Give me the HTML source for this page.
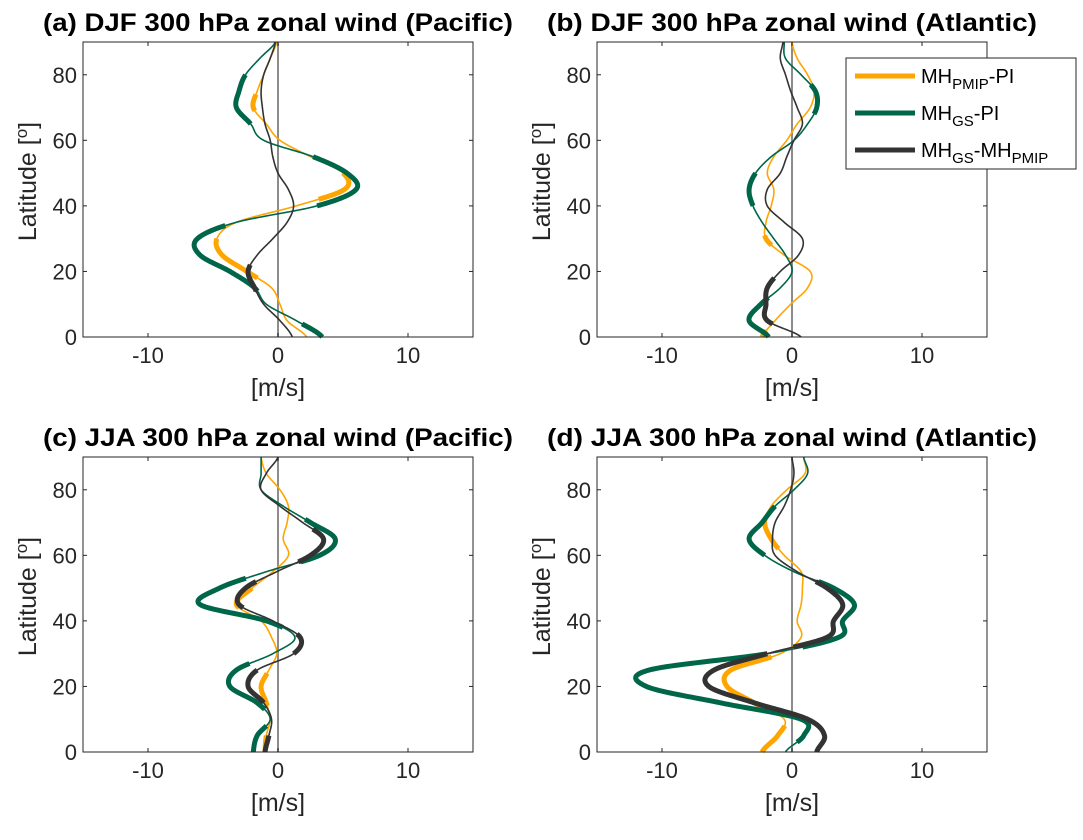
<!DOCTYPE html>
<html><head><meta charset="utf-8"><style>
html,body{margin:0;padding:0;background:#fff;}
svg text{font-family:"Liberation Sans",Arial,sans-serif;}
</style></head><body>
<svg id="fig" width="1083" height="835" viewBox="0 0 1083 835" xmlns="http://www.w3.org/2000/svg"></svg>
<script>
const lats=[0,5,10,15,20,25,30,35,40,45,50,55,60,65,70,75,80,85,90];
const xTicks=[-10,0,10];
const yTicks=[0,20,40,60,80];
// Panel a (DJF Pacific)
const aOrange=[2.2,0.7,0.15,-0.5,-2.4,-4.3,-4.7,-3.2,1.4,5.1,5.0,2.5,0.15,-0.9,-1.9,-1.6,-1.1,-0.6,-0.1];
const aGreen=[3.4,1.4,-0.9,-1.8,-3.7,-6.0,-6.2,-3.2,3.0,6.0,5.3,2.7,-1.1,-2.1,-3.2,-3.0,-2.5,-1.4,-0.2];
const aBlack=[1.1,0.15,-1.1,-1.8,-2.3,-1.6,-0.4,0.7,1.2,0.8,0,-0.4,-0.6,-1.0,-1.2,-1.3,-1.1,-0.6,-0.2];
const aOrangeSig=[[18,30],[42,50],[69,74]];
const aGreenSig=[[0,4],[14,34],[40,55],[65,80]];
const aBlackSig=[[14,22]];
// Panel b (DJF Atlantic)
const bOrange=[-2.3,-1.3,-0.1,1.2,1.4,-0.6,-2.0,-2.0,-1.6,-1.4,-1.9,-1.4,-0.4,0.4,1.4,1.7,1.2,0.4,0];
const bGreen=[-1.8,-3.3,-2.4,-0.9,0,-0.5,-1.4,-2.3,-3.0,-3.3,-2.8,-1.6,0.15,1.2,1.9,1.8,0.7,-0.5,-0.6];
const bBlack=[0.7,-1.9,-2.0,-1.9,-0.9,0.5,0.8,-0.6,-1.9,-1.9,-0.9,-0.4,0.15,0.8,0.4,-0.1,-0.5,-0.9,-0.7];
const bOrangeSig=[[0,2],[28,31]];
const bGreenSig=[[0,12],[40,50],[68,77]];
const bBlackSig=[[4,18]];
// Panel c (JJA Pacific)
const cOrange=[-1.0,-0.9,-0.6,-0.9,-1.3,-0.7,-0.1,-0.5,-1.3,-3.2,-2.0,-0.4,0.8,0.4,0.7,0.8,0.15,-0.9,-1.3];
const cGreen=[-1.9,-1.6,-0.6,-1.6,-3.7,-3.2,-0.4,1.3,-0.9,-6.0,-4.5,-0.9,3.2,4.4,2.5,0.4,-1.3,-1.3,-1.3];
const cBlack=[-1.0,-0.7,-0.5,-1.1,-2.3,-1.6,1.2,1.7,-0.4,-3.0,-2.5,-0.1,2.5,3.5,1.9,0.15,-1.3,-0.9,0];
const cOrangeSig=[[0,5],[14,24],[44,50]];
const cGreenSig=[[0,8],[13,27],[38,53],[58,71]];
const cBlackSig=[[0,5],[15,25],[30,36],[44,52],[58,68]];
// Panel d (JJA Atlantic)
const dOrange=[-2.3,-1.1,-0.6,-2.9,-5.0,-4.7,-0.9,0.7,0.4,0.7,0.8,0.7,-0.6,-1.6,-2.1,-1.6,-0.4,1.0,0.9];
const dGreen=[-0.5,0.9,0.7,-5.5,-11.2,-11.0,-1.9,3.6,3.9,4.8,3.2,0.15,-2.1,-3.3,-2.3,-1.3,0.15,1.2,0.9];
const dBlack=[1.9,2.5,1.2,-2.9,-6.4,-6.0,-1.9,2.7,3.2,3.9,2.7,0.4,-1.3,-1.5,-1.3,-0.6,-0.1,0.15,0];
const dOrangeSig=[[0,8],[12,29],[62,71]];
const dGreenSig=[[3,30],[32,52],[60,75]];
const dBlackSig=[[0,30],[32,52]];

const COLORS={orange:'#FFA500',green:'#00664A',black:'#333333'};
const panels=[
 {key:'a',title:'(a) DJF 300 hPa zonal wind (Pacific)',L:83,T:42,series:[['orange',aOrange,aOrangeSig],['green',aGreen,aGreenSig],['black',aBlack,aBlackSig]]},
 {key:'b',title:'(b) DJF 300 hPa zonal wind (Atlantic)',L:597,T:42,series:[['orange',bOrange,bOrangeSig],['green',bGreen,bGreenSig],['black',bBlack,bBlackSig]]},
 {key:'c',title:'(c) JJA 300 hPa zonal wind (Pacific)',L:83,T:457,series:[['orange',cOrange,cOrangeSig],['green',cGreen,cGreenSig],['black',cBlack,cBlackSig]]},
 {key:'d',title:'(d) JJA 300 hPa zonal wind (Atlantic)',L:597,T:457,series:[['orange',dOrange,dOrangeSig],['green',dGreen,dGreenSig],['black',dBlack,dBlackSig]]}
];
const W=390,H=295;
const NS='http://www.w3.org/2000/svg';
const svg=document.getElementById('fig');
function mk(tag,attrs,parent){const e=document.createElementNS(NS,tag);for(const k in attrs)e.setAttribute(k,attrs[k]);(parent||svg).appendChild(e);return e;}
function interp(vals,lat){
  const step=5;let i=Math.floor(lat/step);if(i>=vals.length-1)i=vals.length-2;
  const t=(lat-i*step)/step;
  const p0=vals[Math.max(i-1,0)],p1=vals[i],p2=vals[i+1],p3=vals[Math.min(i+2,vals.length-1)];
  const t2=t*t,t3=t2*t;
  return 0.5*((2*p1)+(-p0+p2)*t+(2*p0-5*p1+4*p2-p3)*t2+(-p0+3*p1-3*p2+p3)*t3);
}
panels.forEach(p=>{
  const g=mk('g',{});
  
  
  const xS=u=>p.L+(u+15)/30*W;
  const yS=l=>p.T+H-l/90*H;
  const tw=(p.key==='b'||p.key==='d')?490:470;
  const title=mk('text',{x:p.L+W/2,y:p.T-11,'text-anchor':'middle','font-size':'25','font-weight':'bold',fill:'#000',textLength:tw,lengthAdjust:'spacingAndGlyphs'},g);
  title.textContent=p.title;
  
  
  const z=mk('line',{x1:xS(0),x2:xS(0),y1:p.T,y2:p.T+H,stroke:'#8c8c8c','stroke-width':2},g);
  
  
  p.series.forEach(([c,vals,sig])=>{
    const pts=[];
    for(let l=0;l<=90.001;l+=0.25)pts.push(xS(interp(vals,l)).toFixed(2)+','+yS(l).toFixed(2));
    const pl=mk('polyline',{points:pts.join(' '),fill:'none',stroke:COLORS[c],'stroke-width':1.6,'stroke-linejoin':'round'},g);
    
    
    sig.forEach(([a,b])=>{
      const sp=[];
      for(let l=a;l<=b+0.001;l+=0.25)sp.push(xS(interp(vals,l)).toFixed(2)+','+yS(l).toFixed(2));
      const th=mk('polyline',{points:sp.join(' '),fill:'none',stroke:COLORS[c],'stroke-width':5,'stroke-linejoin':'round'},g);
      
      
    });
  });
  const fr=mk('rect',{x:p.L,y:p.T,width:W,height:H,fill:'none',stroke:'#262626','stroke-width':1},g);
  
  
  xTicks.forEach(t=>{
    const x=xS(t);
    mk('line',{x1:x,x2:x,y1:p.T+H,y2:p.T+H-4,stroke:'#262626'},g);
    mk('line',{x1:x,x2:x,y1:p.T,y2:p.T+4,stroke:'#262626'},g);
    const tx=mk('text',{x:x,y:p.T+H+26,'text-anchor':'middle','font-size':'22',fill:'#262626'},g);
    tx.textContent=t;
    
    
  });
  yTicks.forEach(t=>{
    const y=yS(t);
    mk('line',{x1:p.L,x2:p.L+4,y1:y,y2:y,stroke:'#262626'},g);
    mk('line',{x1:p.L+W,x2:p.L+W-4,y1:y,y2:y,stroke:'#262626'},g);
    const ty=mk('text',{x:p.L-6,y:y+8,'text-anchor':'end','font-size':'22',fill:'#262626'},g);
    ty.textContent=t;
    
    
  });
  const xl=mk('text',{x:p.L+W/2,y:p.T+H+59,'text-anchor':'middle','font-size':'25',fill:'#262626'},g);
  xl.textContent='[m/s]';
  
  
  const yl=mk('text',{x:0,y:0,'text-anchor':'middle','font-size':'25',fill:'#262626',transform:'translate('+(p.L-47)+','+(p.T+H/2-8)+') rotate(-90)'},g);
  yl.innerHTML='Latitude [<tspan dy="-9" font-size="17">o</tspan><tspan dy="9">]</tspan>';
  
  
});
const lg=mk('g',{});


mk('rect',{x:846,y:58,width:230,height:111,fill:'#fff',stroke:'#262626','stroke-width':1},lg);
const entries=[['orange','PMIP','PI'],['green','GS','PI'],['black','GS','MH<tspan dy="6" font-size="15">PMIP</tspan>']];
entries.forEach((e,i)=>{
  const y=76+i*37;
  const ln=mk('line',{x1:855,x2:915,y1:y,y2:y,stroke:COLORS[e[0]],'stroke-width':5},lg);
  
  
  const t=mk('text',{x:921,y:y+7,'font-size':'20',fill:'#000'},lg);
  t.innerHTML='MH<tspan dy="6" font-size="15">'+e[1]+'</tspan><tspan dy="-6">-</tspan>'+e[2];
  
  
});
</script>
</body></html>
